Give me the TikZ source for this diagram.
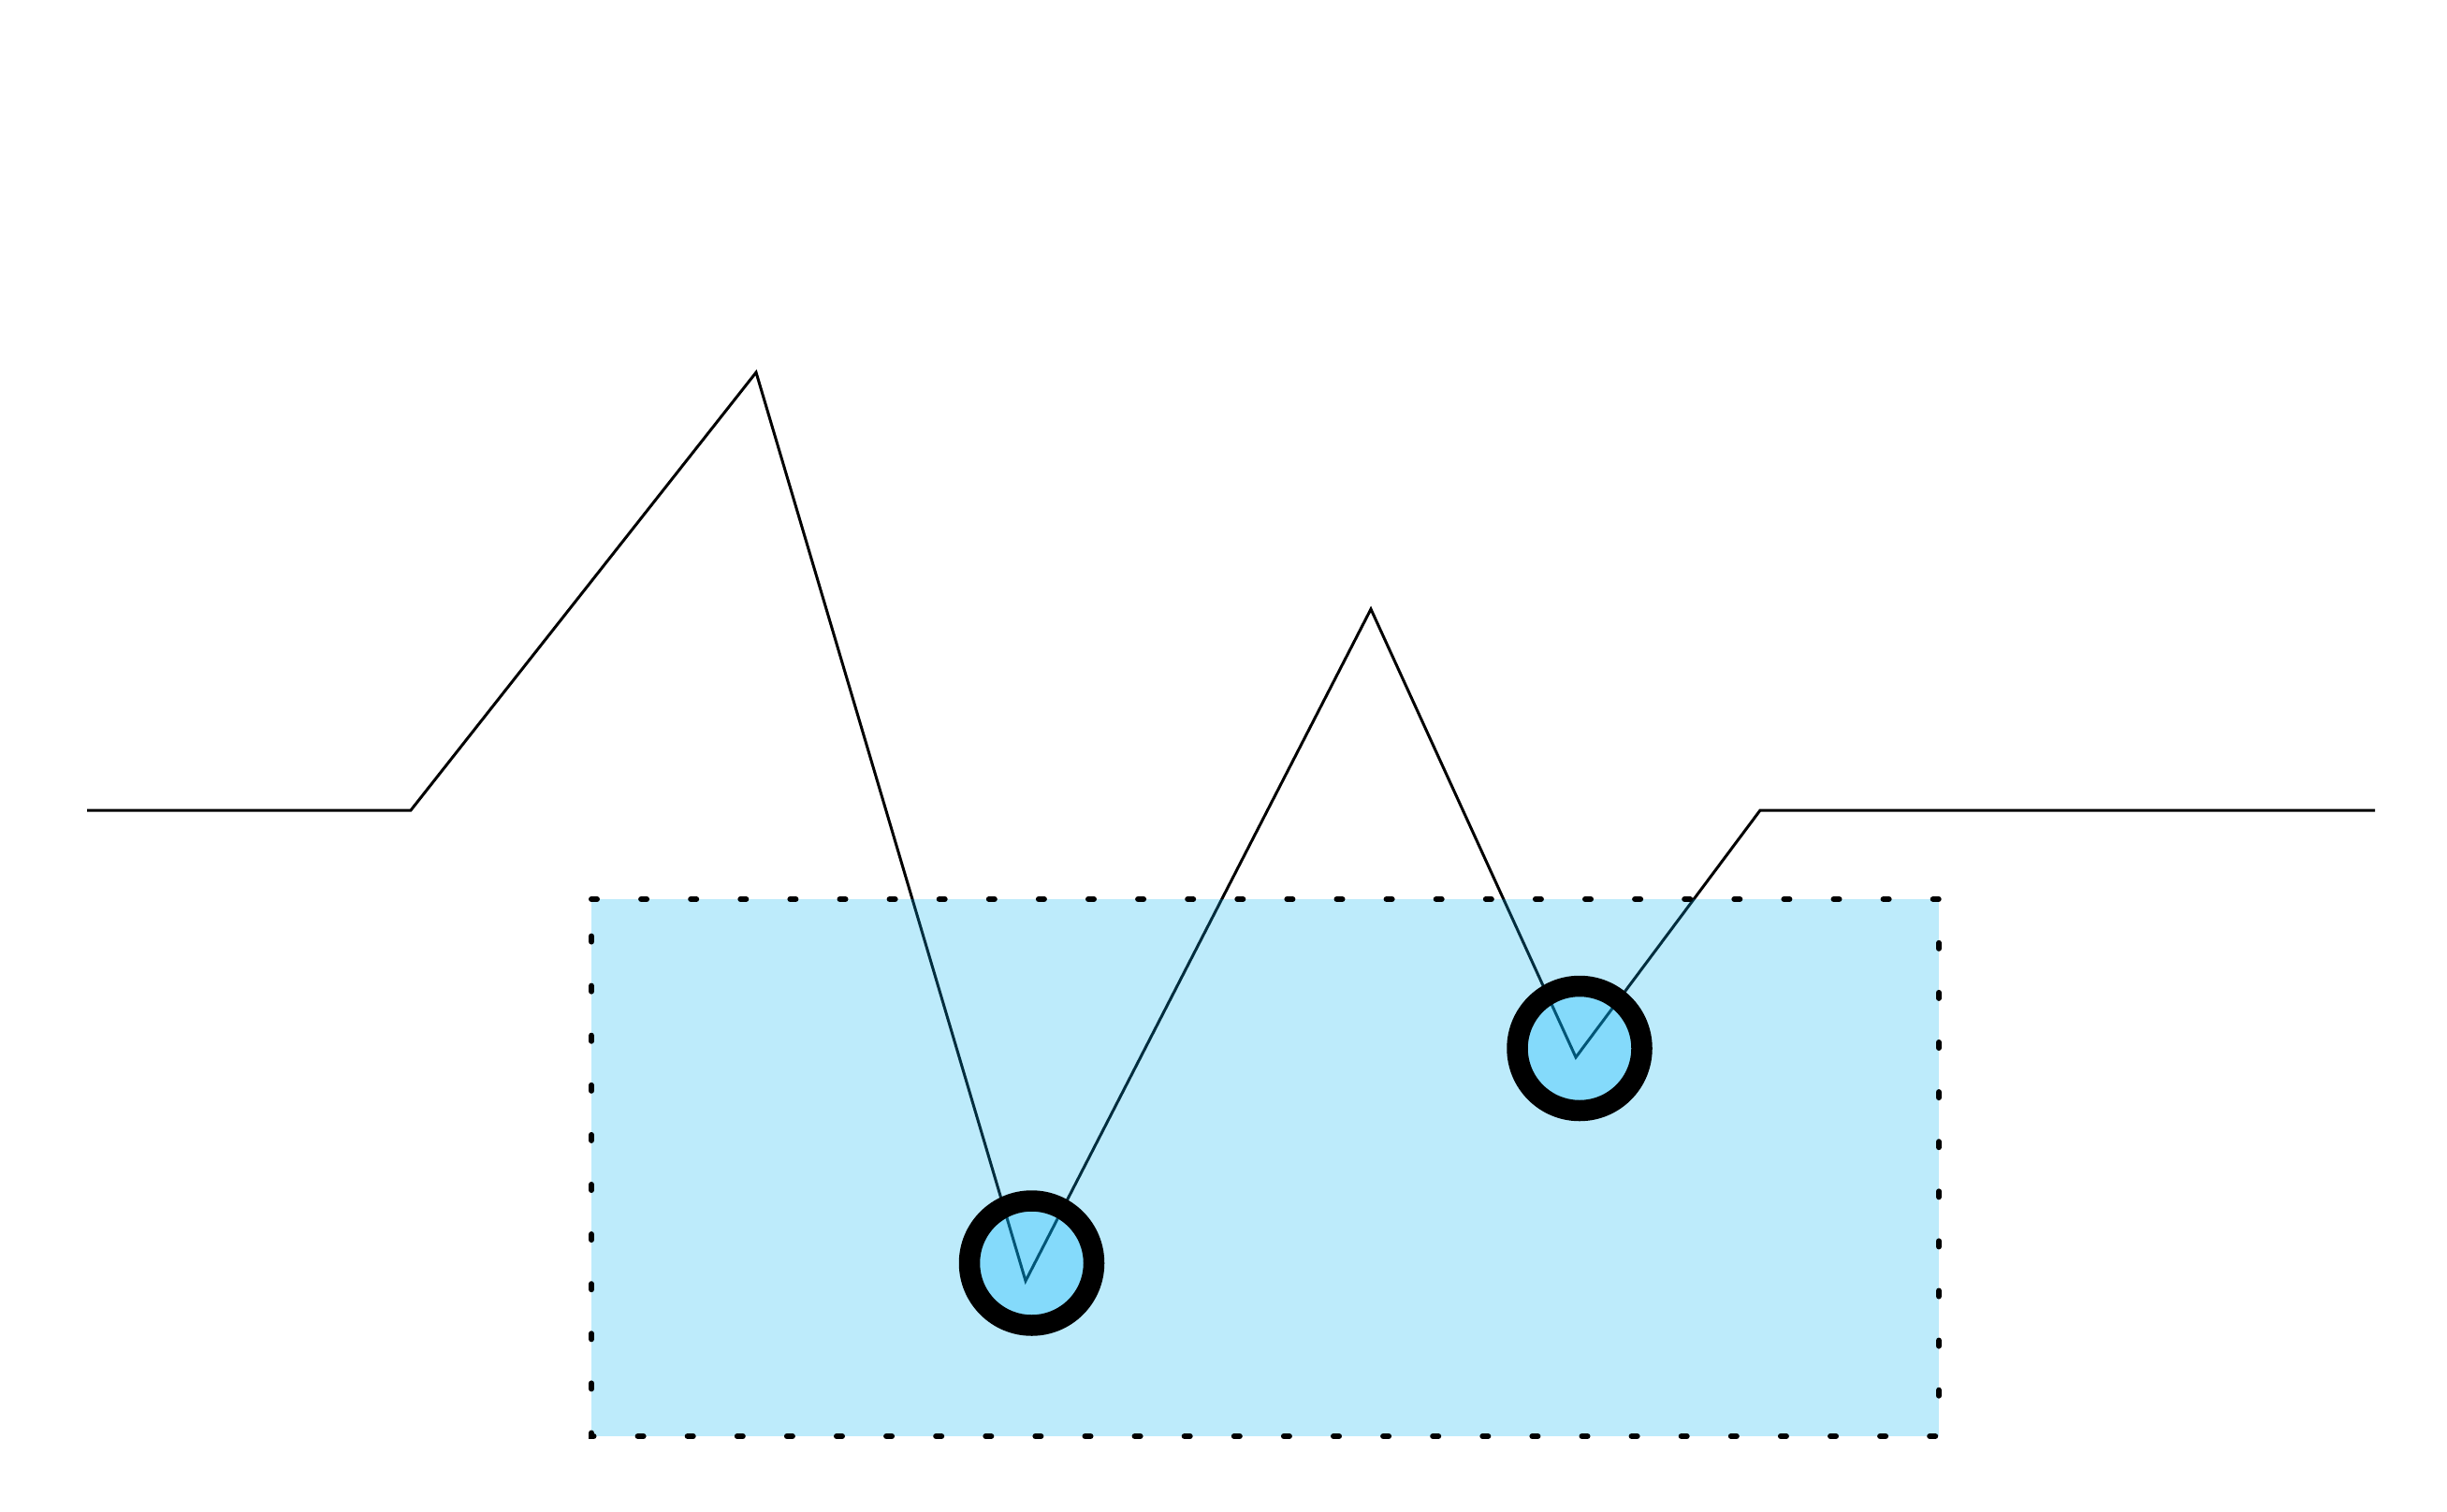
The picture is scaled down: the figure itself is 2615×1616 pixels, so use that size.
\documentclass[tikz,border=0pt]{standalone}
\definecolor{water}{RGB}{0,176,240}
\definecolor{water2}{RGB}{0,180,250}
\tikzset{
  profile/.style={line width=3pt, line join=miter, black},
  pool/.style={fill=water, fill opacity=0.26, draw=black, draw opacity=1, line width=6pt, line cap=round, dash pattern=on 6pt off 47.1pt},
  ring/.style={fill=water2, fill opacity=0.3, draw=black, draw opacity=1, line width=22.5pt}
}
\begin{document}
\begin{tikzpicture}[x=1pt,y=-1pt]
\useasboundingbox (0,0) rectangle (2615,1616);
\coordinate (p0) at (93,866);
\coordinate (p1) at (439,866);
\coordinate (p2) at (808,398);
\coordinate (p3) at (1096,1369);
\coordinate (p4) at (1465,651);
\coordinate (p5) at (1684,1130);
\coordinate (p6) at (1881,866);
\coordinate (p7) at (2538,866);
\draw[profile] (p0) -- (p1) -- (p2) -- (p3) -- (p4) -- (p5) -- (p6) -- (p7);
\coordinate (r1) at (632,961);
\coordinate (r2) at (2072,961);
\coordinate (r3) at (2072,1535);
\coordinate (r4) at (632,1535);
\path[pool] (r1) -- (r2) -- (r3) -- (r4) -- cycle;
\coordinate (c1) at (1102.5,1350);
\coordinate (c2) at (1688,1120.5);
\path[ring] (c1) circle[radius=66.5];
\path[ring] (c2) circle[radius=66.5];
\end{tikzpicture}
\end{document}
